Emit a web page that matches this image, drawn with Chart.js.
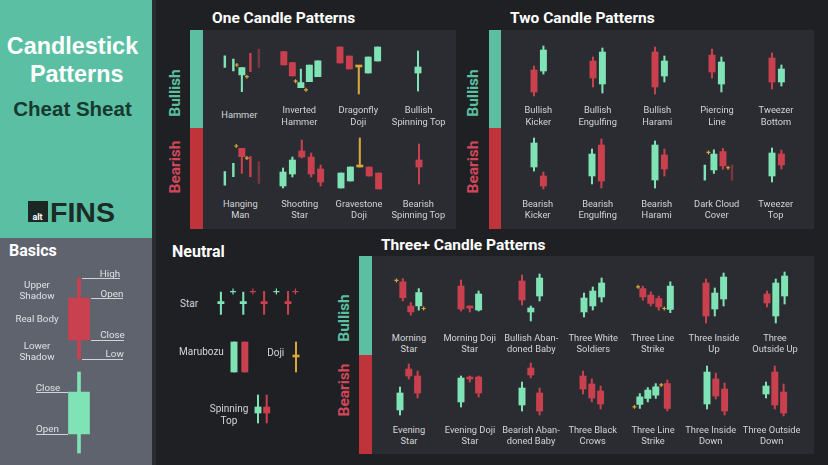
<!DOCTYPE html>
<html>
<head>
<meta charset="utf-8">
<script src="https://cdn.jsdelivr.net/npm/chart.js@4.4.1/dist/chart.umd.min.js"></script>
<style>
	html, body { margin: 0; padding: 0; background: #1f2024; }
	#sheet { position: relative; width: 828px; height: 465px; overflow: hidden; background: #1f2024; font-family: Roboto, "Noto Sans", sans-serif; }
	.box { position: absolute; }
	.title { position: absolute; color: #fff; font-weight: 700; font-size: 15.5px; line-height: 1; white-space: nowrap; transform: translateY(-50%); }
	.lbl { position: absolute; color: #d3d5d9; font-size: 9.3px; line-height: 11.5px; text-align: center; white-space: pre; transform: translate(-50%, -50%); }
	.side { position: absolute; font-weight: 700; font-size: 15.5px; line-height: 1; white-space: nowrap; transform: translate(-50%, -50%) rotate(-90deg); }
	.big { position: absolute; font-family: "Liberation Sans", Arial, sans-serif; font-weight: 700; line-height: 1; white-space: nowrap; transform: translate(-50%, -50%); }
	.rule { position: absolute; height: 1px; background: #cfd2d6; }
	canvas { position: absolute; }
</style>
</head>
<body>
<div id="sheet"></div>
<script>
// candle: [t, open, high, low, close, style]
// style: T = thin line, F = faded thin line, Y = gold doji, G / R = coloured doji
const hammer = [[0, 35, 49, 35, 49, "T"], [1, 31, 45, 31, 45, "T"], [2, 26, 35, 6, 35], [3, 52, 52, 30, 30, "T"], [4, 57, 57, 35, 35, "F"]];
const hammerMarks = [[1.41, 38], [2.59, 24]];
const invHammer = [[0, 54, 54, 38, 38], [1, 41, 41, 25, 25], [2, 11, 33, 11, 17], [3, 18, 38, 18, 38], [4, 24, 43, 24, 43]];
const invHammerMarks = [[1.38, 18.7], [2.6, 8.3]];
const dragonfly = [[0, 55, 55, 39, 39], [1, 46, 46, 33, 33], [2, 35, 35, 8, 35, "Y"], [3, 29, 45, 29, 45], [4, 41, 55, 41, 55]];
const bullSpin = [[0, 29, 51, 11, 35]];

const hangingMan = [[0, 8, 24, 8, 24, "T"], [1, 18, 34, 18, 34, "T"], [2, 52, 52, 22, 42], [3, 42, 42, 18, 18, "T"], [4, 36, 36, 10, 10, "F"]];
const hangingMarks = [[1.34, 54.7], [2.59, 40.3]];
const shootingStar = [[0, 11, 29, 9, 25], [1, 23, 40, 20, 37], [2, 46, 57, 39, 40], [3, 40, 44, 20, 23], [4, 28, 32, 11, 15]];
const gravestone = [[0, 9, 24, 9, 24], [1, 16, 30, 16, 30], [2, 30, 59, 30, 30, "Y"], [3, 30, 30, 21, 21], [4, 24, 24, 8, 8]];
const bearSpin = [[0, 37, 53, 13, 30]];

const bullKicker = [[0, 32, 36, 6, 10], [1, 31, 56, 28, 52]];
const bullEngulf = [[0, 41, 45, 15, 24], [1, 18, 54, 9, 50]];
const bullHarami = [[0, 50, 55, 8, 15], [1, 26, 46, 20, 41]];
const piercing = [[0, 47, 53, 24, 30], [1, 18, 45, 10, 40]];
const tweezerBottom = [[0, 44, 49, 13, 20], [1, 20, 37, 16, 33]];

const bearKicker = [[0, 30, 59, 26, 54], [1, 21, 25, 8, 11]];
const bearEngulf = [[0, 21, 48, 13, 43], [1, 52, 58, 9, 16]];
const bearHarami = [[0, 17, 56, 9, 52], [1, 42, 48, 21, 28]];
const darkCloud = [[0, 14, 32, 14, 32, "T"], [1, 26, 50, 22, 45], [2, 48, 52, 27, 31], [3, 32, 32, 14, 14, "F"]];
const darkCloudMarks = [[0.4, 47], [2.56, 28.7]];
const tweezerTop = [[0, 21, 49, 15, 44], [1, 43, 47, 28, 32]];

const morningStar = [[0, 48, 52, 25, 29], [1, 19, 23, 8, 12], [2, 19, 40, 14, 35]];
const morningMarks = [[-0.8, 49.7], [2.61, 16]];
const morningDoji = [[0, 41, 47, 16, 18], [1, 19, 21, 15, 19, "R"], [2, 17, 36, 16, 33]];
const bullAbandoned = [[0, 46, 52, 22, 27], [1, 15, 21, 6, 19], [2, 31, 53, 26, 49]];
const whiteSoldiers = [[0, 15, 34, 10, 29], [1, 21, 40, 17, 36], [2, 30, 49, 25, 44]];
const strikeUp = [[0, 40, 43, 26, 30], [1, 32, 36, 19, 22], [2, 28, 31, 14, 18], [3.45, 15, 48, 11, 43]];
const strikeUpMarks = [[-0.6, 42], [2.69, 16]];
const insideUp = [[0, 44, 48, 4, 11], [1, 18, 39, 11, 34], [2, 28, 54, 21, 50]];
const outsideUp = [[0, 33, 36, 20, 24], [1, 11, 48, 4, 44], [2, 31, 55, 23, 51]];

const eveningStar = [[0, 12, 35, 7, 29], [1, 53, 58, 43, 46], [2, 46, 51, 24, 29]];
const eveningDoji = [[0, 20, 46, 15, 44], [1, 43, 46, 40, 43, "R"], [2, 45, 46, 25, 29]];
const bearAbandoned = [[0, 17, 40, 11, 34], [1, 54, 59, 44, 47], [2, 29, 34, 7, 11]];
const blackCrows = [[0, 46, 51, 28, 33], [1, 38, 43, 20, 24], [2, 31, 36, 13, 18]];
const strikeDown = [[0, 15, 28, 10, 24], [1, 22, 35, 18, 32], [2, 26, 40, 22, 36], [3.45, 40, 44, 7, 10]];
const strikeDownMarks = [[-0.68, 12], [2.69, 38.3]];
const insideDown = [[0, 18, 56, 13, 50], [1, 43, 49, 23, 26], [2, 33, 39, 7, 11]];
const outsideDown = [[0, 28, 40, 24, 36], [1, 50, 56, 13, 17], [2, 30, 38, 6, 9]];

const star = [[0, 21, 36, 7, 21, "G"], [1, 21, 36, 7, 21, "G"], [1.93, 21, 37, 7, 21, "R"], [3, 21, 37, 7, 21, "R"]];
const starMarks = [[0.54, 36.7, "g"], [1.43, 36.7, "r"], [2.48, 36.7, "g"], [3.33, 36.7, "r"]];
const marubozu = [[0, 8, 38, 8, 38], [1, 38, 38, 8, 8]];
const doji = [[0, 23, 38, 8, 23, "Y"]];
const spinning = [[0, 17, 35, 7, 23], [1, 23, 35, 7, 17]];
const basics = [[0, 162, 182, 101, 120], [0, 26, 88, 7, 68]];

const oneBullNames = ["Hammer", "Inverted\nHammer", "Dragonfly\nDoji", "Bullish\nSpinning Top"];
const oneBearNames = ["Hanging\nMan", "Shooting\nStar", "Gravestone\nDoji", "Bearish\nSpinning Top"];
const twoBullNames = ["Bullish\nKicker", "Bullish\nEngulfing", "Bullish\nHarami", "Piercing\nLine", "Tweezer\nBottom"];
const twoBearNames = ["Bearish\nKicker", "Bearish\nEngulfing", "Bearish\nHarami", "Dark Cloud\nCover", "Tweezer\nTop"];
const threeBullNames = ["Morning\nStar", "Morning Doji\nStar", "Bullish Aban-\ndoned Baby", "Three White\nSoldiers", "Three Line\nStrike", "Three Inside\nUp", "Three\nOutside Up"];
const threeBearNames = ["Evening\nStar", "Evening Doji\nStar", "Bearish Aban-\ndoned Baby", "Three Black\nCrows", "Three Line\nStrike", "Three Inside\nDown", "Three Outside\nDown"];

const GREEN = "#7fe3b6", RED = "#c9404f", GOLD = "#d8a83c";
const MARK = { y: GOLD, g: GREEN, r: RED };
const sheet = document.getElementById("sheet");

function box(x, y, w, h, bg) {
	const d = document.createElement("div");
	d.className = "box";
	Object.assign(d.style, { left: x + "px", top: y + "px", width: w + "px", height: h + "px", background: bg });
	sheet.appendChild(d);
	return d;
}
function text(cls, str, x, y, extra) {
	const d = document.createElement("div");
	d.className = cls;
	d.textContent = str;
	d.style.left = x + "px";
	d.style.top = y + "px";
	if (extra) Object.assign(d.style, extra);
	sheet.appendChild(d);
	return d;
}
function rule(x1, x2, y) {
	const d = box(x1, y, x2 - x1, 1, "#cfd2d6");
	d.className = "rule";
}

// backgrounds
box(0, 0, 152, 238, "#5bbfa3");
box(0, 238, 152, 227, "#5f636e");
box(152, 0, 4, 465, "#2a2b2f");
box(203, 30, 253, 199, "#2a2c31");
box(190, 30, 13, 98, "#5cbfa2");
box(190, 128, 13, 101, "#bf333b");
box(501, 30, 313, 199, "#2a2c31");
box(489, 30, 12, 98, "#5cbfa2");
box(489, 128, 12, 101, "#bf333b");
box(372, 256, 442, 198, "#2a2c31");
box(359, 256, 13, 99, "#5cbfa2");
box(359, 355, 13, 99, "#bf333b");

// left heading
text("big", "Candlestick", 72.5, 47, { color: "#fff", fontSize: "23.4px" });
text("big", "Patterns", 76.7, 75, { color: "#fff", fontSize: "23.4px" });
text("big", "Cheat Sheat", 72.5, 108.5, { color: "#18392f", fontSize: "20.5px" });
box(27.7, 201, 20.6, 21, "#1c2824");
text("big", "alt", 37.5, 216.5, { color: "#fff", fontSize: "9px", fontFamily: "Roboto, sans-serif" });
text("big", "FINS", 82.5, 212, { color: "#1b2c27", fontSize: "28.5px" });

// section titles
text("title", "One Candle Patterns", 212, 19);
text("title", "Two Candle Patterns", 510, 19);
text("title", "Three+ Candle Patterns", 381, 246);
text("title", "Neutral", 172, 251.5, { fontSize: "16px" });
text("title", "Basics", 9, 251, { fontSize: "16px" });

const UP_TXT = "#5cc0a0", DN_TXT = "#d2475a";
[[175.5, 92.5, 166.7], [474, 92.5, 167], [344.7, 317.5, 390]].forEach(([x, yb, ys]) => {
	text("side", "Bullish", x, yb, { color: UP_TXT });
	text("side", "Bearish", x, ys, { color: DN_TXT });
});

function candles(data, marks, o) {
	const cv = document.createElement("canvas");
	const W = o.w || 110, padL = o.padL || 25;
	cv.width = W;
	cv.height = o.h;
	cv.style.left = (o.x0 - padL) + "px";
	cv.style.top = o.top + "px";
	sheet.appendChild(cv);

	const colour = (c) => c[5] === "Y" ? GOLD : c[5] === "G" ? GREEN : c[5] === "R" ? RED : c[4] >= c[1] ? GREEN : RED;
	const solid = data.filter((c) => c[5] !== "T" && c[5] !== "F");
	const thin = data.filter((c) => c[5] === "T" || c[5] === "F");

	new Chart(cv, {
		type: "bar",
		data: {
			datasets: [
				{
					data: solid.map((c) => ({ x: c[0], y: [c[3], c[2]] })),
					backgroundColor: solid.map(colour),
					barThickness: o.wick || 1.4,
				},
				{
					data: solid.map((c) => ({ x: c[0], y: [Math.min(c[1], c[4]), Math.max(c[1], c[4])] })),
					backgroundColor: solid.map(colour),
					barThickness: o.body || 6.3,
					minBarLength: 2,
				},
				{
					data: thin.map((c) => ({ x: c[0], y: [c[3], c[2]] })),
					backgroundColor: thin.map((c) => colour(c) + (c[5] === "F" ? "80" : "")),
					barThickness: 1.8,
				},
				{
					type: "scatter",
					data: (marks || []).map((m) => ({ x: m[0], y: m[1] })),
					pointStyle: "cross",
					pointRadius: o.mark || 2,
					pointBorderWidth: 1.2,
					pointBorderColor: (marks || []).map((m) => MARK[m[2] || "y"]),
				},
			],
		},
		options: {
			responsive: false,
			animation: false,
			events: [],
			layout: { padding: 0 },
			datasets: { bar: { grouped: false, borderWidth: 0, borderSkipped: false } },
			plugins: { legend: { display: false }, tooltip: { enabled: false } },
			scales: {
				x: { type: "linear", display: false, offset: false, min: -padL / o.ppu, max: (W - padL) / o.ppu },
				y: { display: false, min: 0, max: o.h },
			},
		},
	});
}

const rows = [
	{ top: 38, h: 64, ppu: 9.4, ly: 115, names: oneBullNames, items: [[hammer, hammerMarks, 221.7, 239.3], [invHammer, invHammerMarks, 281.3, 299.3], [dragonfly, null, 340, 358.3], [bullSpin, null, 418.3, 418.7]] },
	{ top: 133, h: 64, ppu: 9.4, ly: 208.5, names: oneBearNames, items: [[hangingMan, hangingMarks, 221.7, 240.3], [shootingStar, null, 282.5, 299.7], [gravestone, null, 340.5, 359], [bearSpin, null, 418.5, 418.3]] },
	{ top: 38, h: 64, ppu: 9.4, ly: 115, names: twoBullNames, items: [[bullKicker, null, 533.5, 538.3], [bullEngulf, null, 593.2, 597.7], [bullHarami, null, 654.5, 657.3], [piercing, null, 712.2, 717], [tweezerBottom, null, 771.5, 776]] },
	{ top: 133, h: 64, ppu: 9.4, ly: 208.5, names: twoBearNames, items: [[bearKicker, null, 533.5, 537.7], [bearEngulf, null, 592.2, 597.7], [bearHarami, null, 654.5, 656.7], [darkCloud, darkCloudMarks, 701.7, 716.7, 10], [tweezerTop, null, 771.5, 775.7]] },
	{ top: 265, h: 62, ppu: 8.8, ly: 342.7, names: threeBullNames, items: [[morningStar, morningMarks, 400.3, 409], [morningDoji, null, 461.2, 469.7], [bullAbandoned, null, 522.3, 531.3], [whiteSoldiers, null, 583.7, 593.3], [strikeUp, strikeUpMarks, 640, 652.7], [insideUp, null, 705.5, 714], [outsideUp, null, 766.5, 775]] },
	{ top: 360, h: 62, ppu: 8.8, ly: 434.8, names: threeBearNames, items: [[eveningStar, null, 400, 409], [eveningDoji, null, 460.8, 470], [bearAbandoned, null, 522, 531], [blackCrows, null, 582.5, 592.7], [strikeDown, strikeDownMarks, 637, 653], [insideDown, null, 707.2, 710.7], [outsideDown, null, 766.3, 771.7]] },
];

rows.forEach((row) => {
	row.items.forEach(([data, marks, x0, lx, ppu], i) => {
		candles(data, marks, { top: row.top, h: row.h, ppu: ppu || row.ppu, x0 });
		text("lbl", row.names[i], lx, row.ly);
	});
});

// neutral
candles(star, starMarks, { top: 280, h: 45, ppu: 24.5, x0: 217, w: 120, padL: 15, mark: 3 });
text("lbl", "Star", 189, 304, { fontSize: "10px" });
candles(marubozu, null, { top: 335, h: 45, ppu: 10.8, x0: 233.7, w: 40, padL: 15 });
text("lbl", "Marubozu", 201.5, 352.3, { fontSize: "10px" });
candles(doji, null, { top: 335, h: 45, ppu: 10, x0: 296, w: 30, padL: 15 });
text("lbl", "Doji", 275.7, 353.3, { fontSize: "10px" });
candles(spinning, null, { top: 390, h: 40, ppu: 8.7, x0: 258.3, w: 40, padL: 15 });
text("lbl", "Spinning\nTop", 229, 414, { fontSize: "10px" });

// basics
candles(basics, null, { top: 270, h: 190, ppu: 10, x0: 79, w: 80, padL: 40, wick: 3, body: 21 });
const bs = { fontSize: "9.8px", color: "#dfe1e4" };
text("lbl", "Upper\nShadow", 37, 289.7, bs);
text("lbl", "Real Body", 37, 318.7, bs);
text("lbl", "Lower\nShadow", 37, 350.7, bs);
text("lbl", "High", 110, 273.5, bs);
text("lbl", "Open", 112, 293.5, bs);
text("lbl", "Close", 112.5, 335.2, bs);
text("lbl", "Low", 114.7, 354, bs);
text("lbl", "Close", 48, 388, bs);
text("lbl", "Open", 47.5, 429.3, bs);
rule(82, 120, 278);
rule(91, 123, 297.5);
rule(91, 124, 339.5);
rule(82, 123, 358.5);
rule(36, 68, 392);
rule(36, 68, 433.5);
</script>
</body>
</html>
